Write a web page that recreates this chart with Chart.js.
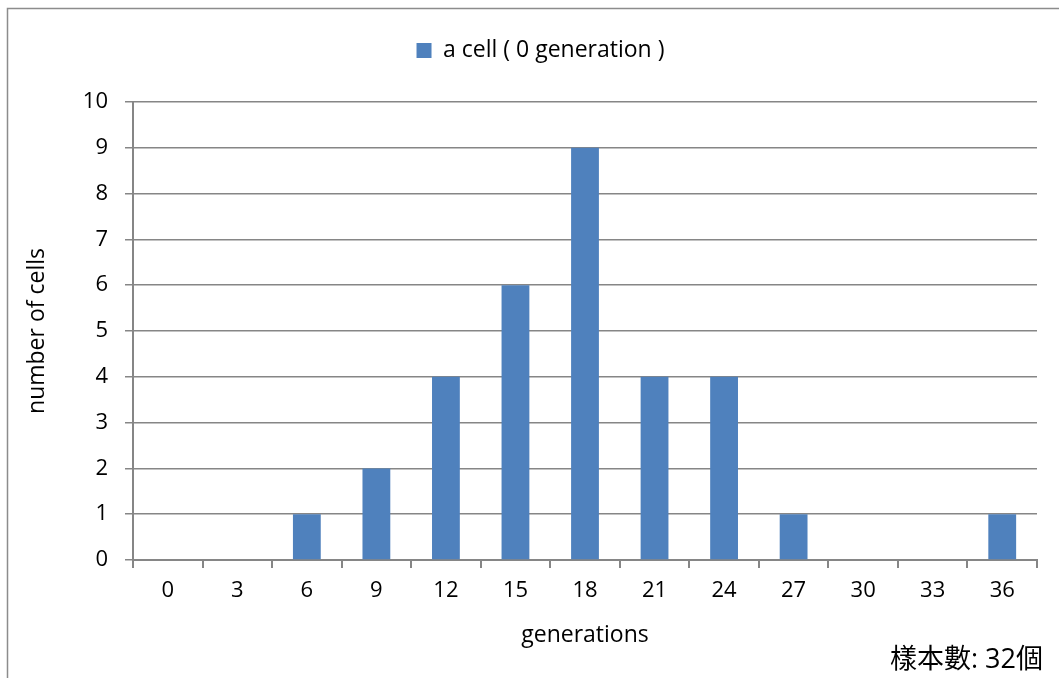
<!DOCTYPE html>
<html>
<head>
<meta charset="utf-8">
<script src="https://cdn.jsdelivr.net/npm/chart.js@4/dist/chart.umd.min.js"></script>
<style>
  html, body { margin: 0; padding: 0; background: #fff; }
  #wrap { width: 1059px; height: 678px; position: relative; }
</style>
</head>
<body>
<div id="wrap"><canvas id="c" width="1059" height="678"></canvas></div>
<script>
const categories = ['0', '3', '6', '9', '12', '15', '18', '21', '24', '27', '30', '33', '36'];
const cellCounts = [0, 0, 1, 2, 4, 6, 9, 4, 4, 1, 0, 0, 1];
const seriesLabel = 'a cell ( 0 generation )';
const xTitle = 'generations';
const yTitle = 'number of cells';
const sampleNote = '樣本數: 32個';

const FONT = "'Open Sans', 'Noto Sans CJK TC', sans-serif";
const GRID = '#868686';

const framePlugin = {
  id: 'frame',
  beforeLayout(chart) {
    const lg = chart.legend;
    if (lg && !lg._patched) {
      const origFit = lg.fit;
      lg.fit = function () { origFit.call(this); this.height = 98; };
      const origDraw = lg.draw;
      lg.draw = function (...args) {
        const ctx = this.ctx;
        ctx.save();
        ctx.translate(22, 0);
        origDraw.apply(this, args);
        ctx.restore();
      };
      lg._patched = true;
    }
  },
  beforeDraw(chart) {
    const ctx = chart.ctx;
    ctx.save();
    ctx.fillStyle = '#fff';
    ctx.fillRect(0, 0, chart.width, chart.height);
    ctx.strokeStyle = '#8c8c8c';
    ctx.lineWidth = 1.5;
    ctx.strokeRect(7.5, 8.5, chart.width + 20, chart.height + 20);
    ctx.restore();
  },
  afterDraw(chart) {
    const ctx = chart.ctx;
    ctx.save();
    ctx.fillStyle = '#000';
    ctx.font = "27px " + FONT;
    ctx.textAlign = 'right';
    ctx.textBaseline = 'alphabetic';
    ctx.fillText(sampleNote, 1043, 668);
    ctx.restore();
  }
};

new Chart(document.getElementById('c'), {
  type: 'bar',
  data: {
    labels: categories,
    datasets: [{
      label: seriesLabel,
      data: cellCounts,
      backgroundColor: '#4F81BD',
      borderWidth: 0,
      barPercentage: 0.4,
      categoryPercentage: 1.0
    }]
  },
  options: {
    responsive: false,
    animation: false,
    devicePixelRatio: 1,
    layout: { padding: { top: 4, right: 22, left: 0, bottom: 0 } },
    plugins: {
      tooltip: { enabled: false },
      legend: {
        display: true,
        position: 'top',
        labels: {
          color: '#000',
          font: { family: FONT, size: 23 },
          boxWidth: 15,
          boxHeight: 15,
          padding: 35
        }
      }
    },
    scales: {
      x: {
        type: 'category',
        offset: true,
        grid: { display: true, drawOnChartArea: false, offset: true, color: GRID, tickLength: 8, lineWidth: 2 },
        border: { display: true, color: GRID, width: 2 },
        ticks: { color: '#000', font: { family: FONT, size: 22 }, padding: 10, maxRotation: 0 },
        title: { display: true, text: xTitle, color: '#000', font: { family: FONT, size: 23 }, padding: { top: 0, bottom: 29 } },
        afterFit(scale) { scale.height = 118; }
      },
      y: {
        min: 0,
        max: 10,
        ticks: { stepSize: 1, color: '#000', font: { family: FONT, size: 22 }, padding: 17 },
        grid: { color: GRID, tickLength: 8, lineWidth: 1.5 },
        border: { display: true, color: GRID, width: 2 },
        title: { display: true, text: yTitle, color: '#000', font: { family: FONT, size: 23 }, padding: { top: 24, bottom: 0 } },
        afterFit(scale) { scale.width = 133; }
      }
    }
  },
  plugins: [framePlugin]
});
</script>
</body>
</html>
